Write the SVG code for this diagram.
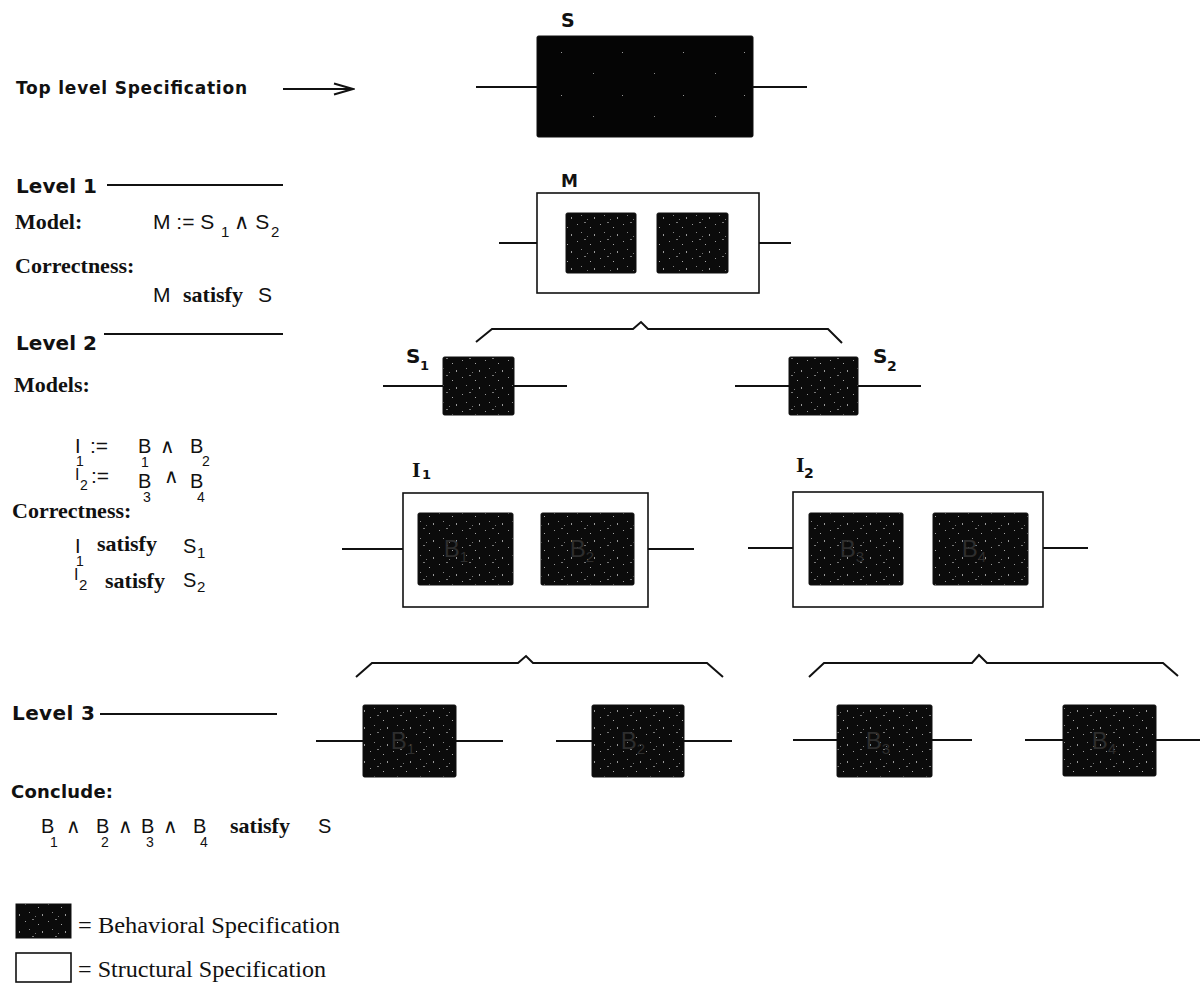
<svg xmlns="http://www.w3.org/2000/svg" width="1200" height="984" viewBox="0 0 1200 984">
  <defs>
    <!-- dense grain for behavioral blocks -->
    <pattern id="grain" width="23" height="17" patternUnits="userSpaceOnUse">
      <rect width="23" height="17" fill="#0b0b0b"/>
      <rect x="2" y="3" width="1" height="1" fill="#9a9a9a"/>
      <rect x="9" y="1" width="2" height="1" fill="#777"/>
      <rect x="15" y="6" width="1" height="1" fill="#aaa"/>
      <rect x="6" y="11" width="1" height="1" fill="#888"/>
      <rect x="19" y="13" width="1" height="2" fill="#999"/>
      <rect x="12" y="15" width="1" height="1" fill="#777"/>
    </pattern>
    <!-- sparse grain for the top-level block -->
    <pattern id="grainSparse" width="61" height="43" patternUnits="userSpaceOnUse">
      <rect width="61" height="43" fill="#050505"/>
      <rect x="12" y="9" width="1" height="1" fill="#999"/>
      <rect x="44" y="30" width="1" height="1" fill="#888"/>
    </pattern>
    <marker id="openHead" markerWidth="22" markerHeight="14" refX="20" refY="7" orient="auto" markerUnits="userSpaceOnUse">
      <path d="M1,1.5 L20,7 L1,12.5" fill="none" stroke="#111" stroke-width="2"/>
    </marker>
  </defs>
  <style>
    .wire { stroke:#111; stroke-width:2; fill:none; }
    .brace { stroke:#111; stroke-width:2; fill:none; stroke-linejoin:miter; }
    .beh { fill:url(#grain); stroke:#111; stroke-width:1; }
    .struct { fill:#fff; stroke:#111; stroke-width:1.6; }
    .head { font-family:"DejaVu Sans", "Liberation Sans", Arial, sans-serif; font-weight:bold; fill:#111; }
    .sans { font-family:"Liberation Sans", "DejaVu Sans", Arial, sans-serif; fill:#111; }
    .serifB { font-family:"Liberation Serif", "Times New Roman", serif; font-weight:bold; fill:#111; }
    .serif { font-family:"Liberation Serif", "Times New Roman", serif; fill:#111; }
    .ghost { font-family:"Liberation Sans", Arial, sans-serif; fill:#2e2e2e; font-size:24px; }
  </style>

  <rect width="1200" height="984" fill="#fff"/>

  <!-- left column: level annotations -->
  <g id="annotations">
    <text class="head" x="16" y="94" font-size="17" textLength="231" lengthAdjust="spacing">Top level Specification</text>
    <line x1="283" y1="89" x2="353" y2="89" stroke="#111" stroke-width="2" marker-end="url(#openHead)"/>

    <text class="head" x="16" y="193" font-size="20" textLength="81" lengthAdjust="spacing">Level 1</text>
    <line x1="107" y1="185" x2="283" y2="185" stroke="#111" stroke-width="2"/>
    <text class="serifB" x="15" y="229" font-size="22">Model:</text>
    <text class="sans" x="153" y="229" font-size="21">M := S</text>
    <text class="sans" x="221" y="237" font-size="15">1</text>
    <text class="sans" x="234" y="229" font-size="21">∧ S</text>
    <text class="sans" x="271" y="237" font-size="15">2</text>
    <text class="serifB" x="15" y="273" font-size="22">Correctness:</text>
    <text class="sans" x="153" y="302" font-size="21">M</text>
    <text class="serifB" x="183" y="302" font-size="22">satisfy</text>
    <text class="sans" x="258" y="302" font-size="21">S</text>

    <text class="head" x="16" y="350" font-size="20" textLength="81" lengthAdjust="spacing">Level 2</text>
    <line x1="104" y1="334" x2="283" y2="334" stroke="#111" stroke-width="2"/>
    <text class="serifB" x="14" y="392" font-size="22">Models:</text>

    <!-- I1 := B1 ∧ B2 -->
    <text class="sans" x="75" y="453" font-size="20">I</text>
    <text class="sans" x="76" y="466" font-size="14">1</text>
    <text class="sans" x="90" y="453" font-size="21">:=</text>
    <text class="sans" x="138" y="453" font-size="20">B</text>
    <text class="sans" x="141" y="467" font-size="14">1</text>
    <text class="sans" x="160" y="453" font-size="20">∧</text>
    <text class="sans" x="190" y="453" font-size="20">B</text>
    <text class="sans" x="202" y="466" font-size="14">2</text>

    <!-- I2 := B3 ∧ B4 -->
    <text class="sans" x="75" y="480" font-size="16">I</text>
    <text class="sans" x="80" y="490" font-size="14">2</text>
    <text class="sans" x="91" y="483" font-size="21">:=</text>
    <text class="sans" x="138" y="488" font-size="20">B</text>
    <text class="sans" x="143" y="502" font-size="14">3</text>
    <text class="sans" x="164" y="483" font-size="20">∧</text>
    <text class="sans" x="190" y="488" font-size="20">B</text>
    <text class="sans" x="197" y="502" font-size="14">4</text>

    <text class="serifB" x="12" y="518" font-size="22">Correctness:</text>
    <text class="sans" x="75" y="553" font-size="20">I</text>
    <text class="sans" x="76" y="566" font-size="14">1</text>
    <text class="serifB" x="97" y="551" font-size="22">satisfy</text>
    <text class="sans" x="183" y="553" font-size="20">S</text>
    <text class="sans" x="197" y="558" font-size="15">1</text>

    <text class="sans" x="74" y="580" font-size="16">I</text>
    <text class="sans" x="79" y="590" font-size="15">2</text>
    <text class="serifB" x="105" y="588" font-size="22">satisfy</text>
    <text class="sans" x="183" y="587" font-size="20">S</text>
    <text class="sans" x="197" y="592" font-size="15">2</text>

    <text class="head" x="12" y="720" font-size="20" textLength="83" lengthAdjust="spacing">Level 3</text>
    <line x1="100" y1="714" x2="277" y2="714" stroke="#111" stroke-width="2"/>

    <text class="head" x="11" y="798" font-size="18" textLength="102" lengthAdjust="spacing">Conclude:</text>
    <text class="sans" x="41" y="833" font-size="20">B</text>
    <text class="sans" x="50" y="847" font-size="14">1</text>
    <text class="sans" x="66" y="833" font-size="20">∧</text>
    <text class="sans" x="96" y="833" font-size="20">B</text>
    <text class="sans" x="101" y="847" font-size="14">2</text>
    <text class="sans" x="118" y="833" font-size="20">∧</text>
    <text class="sans" x="141" y="833" font-size="20">B</text>
    <text class="sans" x="146" y="847" font-size="14">3</text>
    <text class="sans" x="163" y="833" font-size="20">∧</text>
    <text class="sans" x="193" y="833" font-size="20">B</text>
    <text class="sans" x="200" y="847" font-size="14">4</text>
    <text class="serifB" x="230" y="833" font-size="22">satisfy</text>
    <text class="sans" x="318" y="833" font-size="20">S</text>
  </g>

  <!-- connectors: wires through blocks and grouping braces -->
  <g id="connectors">
    <path class="wire" d="M476,87 H537 M753,87 H807"/>
    <path class="wire" d="M499,243 H566 M636,243 H657 M728,243 H791"/>
    <path class="wire" d="M383,386 H443 M514,386 H567"/>
    <path class="wire" d="M735,386 H789 M858,386 H921"/>
    <path class="wire" d="M342,549 H418 M513,549 H541 M634,549 H694"/>
    <path class="wire" d="M748,548 H809 M903,548 H933 M1028,548 H1088"/>
    <path class="wire" d="M316,741 H363 M456,741 H503"/>
    <path class="wire" d="M556,741 H592 M684,741 H732"/>
    <path class="wire" d="M793,740 H837 M932,740 H972"/>
    <path class="wire" d="M1025,740 H1063 M1156,740 H1200"/>
    <path class="brace" d="M476,342 L492,329 H633 L641,322 L648,329 H828 L842,343"/>
    <path class="brace" d="M356,677 L372,663 H518 L526,656 L533,663 H707 L723,677"/>
    <path class="brace" d="M809,677 L824,663 H972 L979,655 L987,663 H1163 L1178,676"/>
  </g>

  <!-- top-level specification S -->
  <g id="node-S">
    <rect x="537" y="36" width="216" height="101" rx="1.5" fill="url(#grainSparse)" stroke="#111"/>
    <text class="head" x="561" y="27" font-size="19">S</text>
  </g>

  <!-- level 1 model M -->
  <g id="node-M">
    <rect class="struct" x="537" y="193" width="222" height="100"/>
    <text class="head" x="561" y="187" font-size="17">M</text>
  </g>
  <g id="node-M-s1">
    <rect class="beh" x="566" y="213" width="70" height="60" rx="1.5"/>
  </g>
  <g id="node-M-s2">
    <rect class="beh" x="657" y="213" width="71" height="60" rx="1.5"/>
  </g>

  <!-- level 2 specifications -->
  <g id="node-S1">
    <rect class="beh" x="443" y="357" width="71" height="58" rx="1.5"/>
    <text class="head" x="406" y="363" font-size="20">S</text>
    <text class="head" x="420" y="370" font-size="13">1</text>
  </g>
  <g id="node-S2">
    <rect class="beh" x="789" y="357" width="69" height="58" rx="1.5"/>
    <text class="head" x="873" y="363" font-size="20">S</text>
    <text class="head" x="887" y="371" font-size="14">2</text>
  </g>

  <!-- level 2 models I1, I2 -->
  <g id="node-I1">
    <rect class="struct" x="403" y="493" width="245" height="114"/>
    <text class="serifB" x="412" y="477" font-size="22">I</text>
    <text class="head" x="422" y="479" font-size="13">1</text>
  </g>
  <g id="node-I1-b1">
    <rect class="beh" x="418" y="513" width="95" height="72" rx="1.5"/>
    <text class="ghost" x="456" y="557" text-anchor="middle">B<tspan font-size="15" dy="5">1</tspan></text>
  </g>
  <g id="node-I1-b2">
    <rect class="beh" x="541" y="513" width="93" height="72" rx="1.5"/>
    <text class="ghost" x="582" y="557" text-anchor="middle">B<tspan font-size="15" dy="5">2</tspan></text>
  </g>
  <g id="node-I2">
    <rect class="struct" x="793" y="492" width="250" height="115"/>
    <text class="serifB" x="796" y="472" font-size="22">I</text>
    <text class="head" x="804" y="478" font-size="14">2</text>
  </g>
  <g id="node-I2-b3">
    <rect class="beh" x="809" y="513" width="94" height="72" rx="1.5"/>
    <text class="ghost" x="852" y="557" text-anchor="middle">B<tspan font-size="15" dy="5">3</tspan></text>
  </g>
  <g id="node-I2-b4">
    <rect class="beh" x="933" y="513" width="95" height="72" rx="1.5"/>
    <text class="ghost" x="974" y="557" text-anchor="middle">B<tspan font-size="15" dy="5">4</tspan></text>
  </g>

  <!-- level 3 behavioral blocks -->
  <g id="node-B1">
    <rect class="beh" x="363" y="705" width="93" height="72" rx="1.5"/>
    <text class="ghost" x="403" y="749" text-anchor="middle">B<tspan font-size="15" dy="5">1</tspan></text>
  </g>
  <g id="node-B2">
    <rect class="beh" x="592" y="705" width="92" height="72" rx="1.5"/>
    <text class="ghost" x="633" y="749" text-anchor="middle">B<tspan font-size="15" dy="5">2</tspan></text>
  </g>
  <g id="node-B3">
    <rect class="beh" x="837" y="705" width="95" height="72" rx="1.5"/>
    <text class="ghost" x="878" y="749" text-anchor="middle">B<tspan font-size="15" dy="5">3</tspan></text>
  </g>
  <g id="node-B4">
    <rect class="beh" x="1063" y="705" width="93" height="71" rx="1.5"/>
    <text class="ghost" x="1104" y="749" text-anchor="middle">B<tspan font-size="15" dy="5">4</tspan></text>
  </g>

  <!-- legend -->
  <g id="legend">
    <rect class="beh" x="16" y="904" width="55" height="34"/>
    <text class="serif" x="78" y="933" font-size="24" textLength="262" lengthAdjust="spacingAndGlyphs">= Behavioral Specification</text>
    <rect class="struct" x="16" y="953" width="55" height="29"/>
    <text class="serif" x="78" y="977" font-size="24" textLength="248" lengthAdjust="spacingAndGlyphs">= Structural Specification</text>
  </g>
</svg>
